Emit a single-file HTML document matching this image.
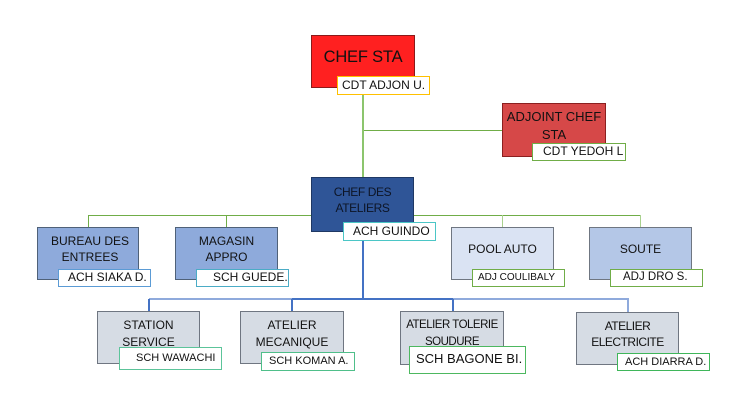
<!DOCTYPE html>
<html><head><meta charset="utf-8"><style>
html,body{margin:0;padding:0;background:#fff;}
body{width:742px;height:409px;position:relative;overflow:hidden;font-family:"Liberation Sans",sans-serif;color:#111;}
.b{position:absolute;box-sizing:border-box;border:1px solid #6f7681;}
.l{position:absolute;box-sizing:border-box;background:#fff;border:1px solid #70ad47;}
.t{position:absolute;white-space:nowrap;text-align:center;}
.lt{position:absolute;white-space:nowrap;}
.ln{position:absolute;}
</style></head><body>

<!-- connectors -->
<div class="ln" style="left:362px;top:94px;width:2px;height:83px;background:#8cc56d"></div>
<div class="ln" style="left:364px;top:130px;width:138px;height:1px;background:#70ad47"></div>
<div class="ln" style="left:88px;top:215px;width:553px;height:1px;background:#70ad47"></div>
<div class="ln" style="left:88px;top:215px;width:1px;height:12px;background:#70ad47"></div>
<div class="ln" style="left:226px;top:215px;width:1px;height:12px;background:#70ad47"></div>
<div class="ln" style="left:502px;top:215px;width:1px;height:12px;background:#a9d18e"></div>
<div class="ln" style="left:640px;top:215px;width:1px;height:12px;background:#a9d18e"></div>

<div class="ln" style="left:362px;top:240px;width:2px;height:60px;background:#4472c4"></div>
<div class="ln" style="left:149px;top:298px;width:143px;height:2px;background:#8faadc"></div>
<div class="ln" style="left:292px;top:298px;width:161px;height:2px;background:#4472c4"></div>
<div class="ln" style="left:453px;top:298px;width:176px;height:2px;background:#8faadc"></div>
<div class="ln" style="left:148px;top:299px;width:2px;height:12px;background:#4472c4"></div>
<div class="ln" style="left:291px;top:299px;width:2px;height:12px;background:#4472c4"></div>
<div class="ln" style="left:452px;top:299px;width:2px;height:12px;background:#4472c4"></div>
<div class="ln" style="left:627px;top:299px;width:2px;height:13px;background:#8faadc"></div>

<!-- CHEF STA -->
<div class="b" style="left:311px;top:35px;width:104px;height:53px;background:#ff2020;border-color:#8b1a1a"></div>
<div class="t" style="left:311px;width:104px;top:47px;font-size:16.5px;line-height:20px;letter-spacing:-0.2px">CHEF STA</div>
<div class="l" style="left:337px;top:76px;width:93px;height:19px;border-color:#ffc000"></div>
<div class="lt" style="left:342px;top:78px;font-size:12px;line-height:15px">CDT ADJON U.</div>

<!-- ADJOINT -->
<div class="b" style="left:502px;top:103px;width:104px;height:54px;background:#d64848;border-color:#8b2020"></div>
<div class="t" style="left:502px;width:104px;top:108px;font-size:13px;line-height:18px">ADJOINT CHEF<br>STA</div>
<div class="l" style="left:532px;top:143px;width:94px;height:18px;border-color:#70ad47"></div>
<div class="lt" style="left:543px;top:144px;font-size:12px;line-height:15px">CDT YEDOH L</div>

<!-- CHEF DES ATELIERS -->
<div class="b" style="left:311px;top:177px;width:103px;height:55px;background:#2f5597;border-color:#1f3864"></div>
<div class="t" style="left:311px;width:103px;top:185px;font-size:12px;line-height:15.5px;letter-spacing:-0.4px;color:#0d1526">CHEF DES<br>ATELIERS</div>
<div class="l" style="left:343px;top:222px;width:93px;height:19px;border-color:#4bc6c6"></div>
<div class="lt" style="left:353px;top:224px;font-size:12px;line-height:15px">ACH GUINDO</div>

<!-- BUREAU -->
<div class="b" style="left:37px;top:227px;width:102px;height:53px;background:#8eaadb;border-color:#4f6178"></div>
<div class="t" style="left:39px;width:102px;top:234px;font-size:12px;line-height:15.5px">BUREAU DES<br>ENTREES</div>
<div class="l" style="left:58px;top:269px;width:93px;height:18px;border-color:#5b9bd5"></div>
<div class="lt" style="left:68px;top:270px;font-size:12px;line-height:15px">ACH SIAKA D.</div>

<!-- MAGASIN -->
<div class="b" style="left:175px;top:227px;width:103px;height:53px;background:#8eaadb;border-color:#4f6178"></div>
<div class="t" style="left:175px;width:103px;top:234px;font-size:12px;line-height:15.5px">MAGASIN<br>APPRO</div>
<div class="l" style="left:196px;top:269px;width:93px;height:18px;border-color:#4bacc6"></div>
<div class="lt" style="left:213px;top:270px;font-size:12px;line-height:15px">SCH GUEDE.</div>

<!-- POOL AUTO -->
<div class="b" style="left:451px;top:227px;width:103px;height:53px;background:#dae3f3;border-color:#6f7681"></div>
<div class="t" style="left:451px;width:103px;top:241px;font-size:12px;line-height:16px">POOL AUTO</div>
<div class="l" style="left:472px;top:269px;width:93px;height:18px;border-color:#70ad47"></div>
<div class="lt" style="left:478px;top:271px;font-size:10px;line-height:14px">ADJ COULIBALY</div>

<!-- SOUTE -->
<div class="b" style="left:589px;top:227px;width:103px;height:53px;background:#b4c7e7;border-color:#6f7681"></div>
<div class="t" style="left:589px;width:103px;top:241px;font-size:12px;line-height:16px">SOUTE</div>
<div class="l" style="left:610px;top:269px;width:93px;height:18px;border-color:#70ad47"></div>
<div class="lt" style="left:623px;top:270px;font-size:11.5px;line-height:15px">ADJ DRO S.</div>

<!-- STATION SERVICE -->
<div class="b" style="left:97px;top:311px;width:103px;height:53px;background:#d6dce4;border-color:#6f7681"></div>
<div class="t" style="left:97px;width:103px;top:317px;font-size:12px;line-height:16.5px">STATION<br>SERVICE</div>
<div class="l" style="left:119px;top:347px;width:103px;height:23px;border-color:#5cc49a"></div>
<div class="lt" style="left:136px;top:351px;font-size:11px;line-height:14px">SCH WAWACHI</div>

<!-- ATELIER MECANIQUE -->
<div class="b" style="left:240px;top:311px;width:104px;height:53px;background:#d6dce4;border-color:#6f7681"></div>
<div class="t" style="left:240px;width:104px;top:317px;font-size:12px;line-height:16.5px">ATELIER<br>MECANIQUE</div>
<div class="l" style="left:261px;top:352px;width:94px;height:19px;border-color:#4fbf8a"></div>
<div class="lt" style="left:269px;top:354px;font-size:11px;line-height:14px">SCH KOMAN A.</div>

<!-- ATELIER TOLERIE -->
<div class="b" style="left:400px;top:311px;width:104px;height:54px;background:#d6dce4;border-color:#6f7681"></div>
<div class="t" style="left:400px;width:104px;top:317px;font-size:11.5px;line-height:16.5px;letter-spacing:-0.5px">ATELIER TOLERIE<br>SOUDURE</div>
<div class="l" style="left:409px;top:346px;width:117px;height:28px;border-color:#4db860"></div>
<div class="lt" style="left:416px;top:351px;font-size:13px;line-height:16px">SCH BAGONE BI.</div>

<!-- ATELIER ELECTRICITE -->
<div class="b" style="left:576px;top:312px;width:103px;height:53px;background:#d6dce4;border-color:#6f7681"></div>
<div class="t" style="left:576px;width:103px;top:318px;font-size:12px;line-height:16px;letter-spacing:-0.5px">ATELIER<br>ELECTRICITE</div>
<div class="l" style="left:617px;top:353px;width:93px;height:18px;border-color:#3fb65a"></div>
<div class="lt" style="left:625px;top:355px;font-size:11px;line-height:14px">ACH DIARRA D.</div>

</body></html>
